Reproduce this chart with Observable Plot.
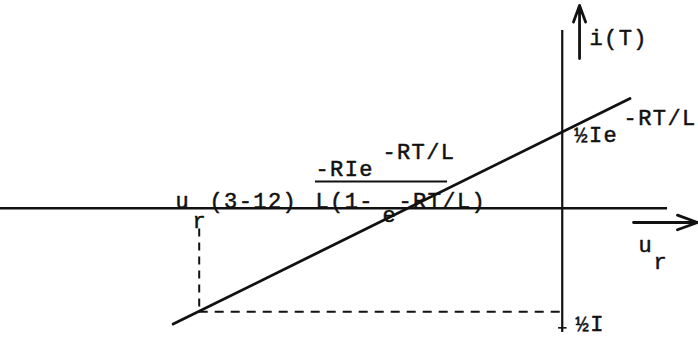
<!DOCTYPE html>
<html>
<head>
<meta charset="utf-8">
<script src="https://cdn.jsdelivr.net/npm/d3@7"></script>
<script src="https://cdn.jsdelivr.net/npm/@observablehq/plot@0.6"></script>
<style>
  html, body { margin: 0; padding: 0; background: #fff; }
  #chart svg text { letter-spacing: 1.4px; }
</style>
</head>
<body>
<div id="chart"></div>
<script>
// Characteristic of i(T) against u_r, with the ½I and ½Ie^{-RT/L} levels.
// Units: i in multiples of ½I, u_r in arbitrary units (u_r(3-12) at -3).
const lineU = [-3.215, 0.56];         // ends of the straight characteristic
const lineI = [-1.12, 1.06];
const halfI = -1;                      // level reached at u_r(3-12)
const uR = -3;                         // u_r (3-12)
const halfIexp = 0.73;                 // ½Ie^{-RT/L}, intercept on the i axis
const zeroCross = -1.27;               // -RIe^{-RT/L} / L(1-e^{-RT/L})

const labelText = ["i(T)", "u", "r", "u", "r", "(3-12)", "-RIe", "-RT/L",
  "L(1-", "e", "-RT/L)", "½Ie", "-RT/L", "½I"];
const labelU = [0.225, 0.63, 0.755, -3.196, -3.055, -2.915, -2.039, -1.486,
  -2.039, -1.486, -1.353, 0.10, 0.507, 0.11];
const labelI = [1.581, -0.428, -0.583, 0, -0.196, 0, 0.316, 0.48,
  0, -0.138, 0, 0.64, 0.8, -1.185];

const labels = labelText.map((t, k) => ({t, u: labelU[k], i: labelI[k]}));
const line = lineU.map((u, k) => ({u, i: lineI[k]}));

const ink = "#111";
const font = "Liberation Mono, Courier New, monospace";

const chart = Plot.plot({
  width: 698,
  height: 338,
  margin: 0,
  x: {domain: [-4.642, 1.126], axis: null},
  y: {domain: [-1.259, 2.007], axis: null},
  marks: [
    // axes
    Plot.ruleY([0], {x1: -4.642, x2: 0.87, stroke: ink, strokeWidth: 2.4}),
    Plot.ruleX([0], {y1: -1.20, y2: 1.717, stroke: ink, strokeWidth: 2.2}),
    // axis arrows
    Plot.arrow([{x1: 0.589, x2: 1.118, y1: -0.138, y2: -0.138},
                {x1: 0.143, x2: 0.143, y1: 1.446, y2: 1.959}],
      {x1: "x1", x2: "x2", y1: "y1", y2: "y2", stroke: ink, strokeWidth: 2.8,
       headLength: 26, headAngle: 40}),
    // dashed projections
    Plot.ruleY([halfI], {x1: uR, x2: 0, stroke: ink, strokeWidth: 2, strokeDasharray: "9,7"}),
    Plot.ruleX([uR], {y1: -0.2, y2: halfI, stroke: ink, strokeWidth: 2, strokeDasharray: "8,6"}),
    // small tick under ½I
    Plot.ruleY([-1.156], {x1: -0.03, x2: 0.04, stroke: ink, strokeWidth: 1.6}),
    // the characteristic
    Plot.line(line, {x: "u", y: "i", stroke: ink, strokeWidth: 2.8}),
    // fraction bar
    Plot.ruleY([0.258], {x1: -2.039, x2: -0.948, stroke: ink, strokeWidth: 2}),
    // labels
    Plot.text(labels, {x: "u", y: "i", text: "t", textAnchor: "start",
      lineAnchor: "bottom", fontSize: 22, fontFamily: font, fill: ink,
      stroke: ink, strokeWidth: 0.5})
  ]
});
document.getElementById("chart").append(chart);
</script>
</body>
</html>
